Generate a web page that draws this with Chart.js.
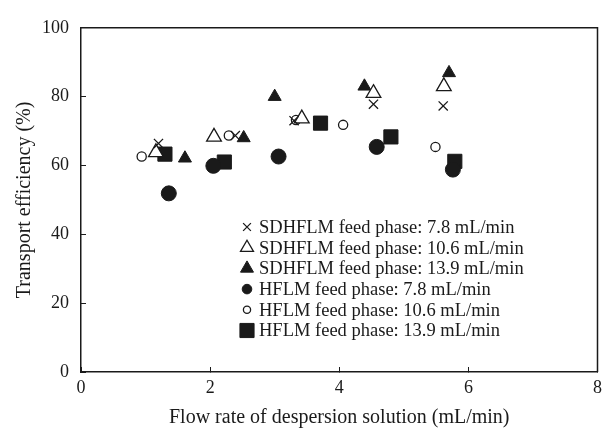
<!DOCTYPE html>
<html>
<head>
<meta charset="utf-8">
<script src="https://cdn.jsdelivr.net/npm/chart.js"></script>
<style>
  body { margin: 0; background: #fff; }
</style>
</head>
<body>
<canvas id="myChart" width="612" height="437"></canvas>
<script>
// series names
const seriesLabels = [
  "SDHFLM feed phase: 7.8 mL/min",
  "SDHFLM feed phase: 10.6 mL/min",
  "SDHFLM feed phase: 13.9 mL/min",
  "HFLM feed phase: 7.8 mL/min",
  "HFLM feed phase: 10.6 mL/min",
  "HFLM feed phase: 13.9 mL/min"
];

// flow rate of dispersion solution (mL/min) / transport efficiency (%)
const sdhFlow78 = [1.20, 2.39, 3.30, 4.53, 5.61];
const sdhEff78 = [66.4, 68.7, 73.0, 77.8, 77.3];
const sdhFlow106 = [1.16, 2.06, 3.42, 4.53, 5.62];
const sdhEff106 = [63.8, 68.3, 73.6, 81.0, 83.0];
const sdhFlow139 = [1.61, 2.52, 3.00, 4.39, 5.70];
const sdhEff139 = [62.1, 68.0, 80.0, 83.0, 86.9];
const hfFlow78 = [1.36, 2.05, 3.06, 4.58, 5.76];
const hfEff78 = [51.9, 59.9, 62.6, 65.4, 58.8];
const hfFlow106 = [0.94, 2.29, 3.33, 4.06, 5.49];
const hfEff106 = [62.6, 68.7, 73.2, 71.8, 65.4];
const hfFlow139 = [1.30, 2.22, 3.71, 4.80, 5.79];
const hfEff139 = [63.3, 61.0, 72.3, 68.3, 61.2];

const xTicks = [0, 2, 4, 6, 8];
const yTicks = [0, 20, 40, 60, 80, 100];

const ink = "#1a1a1a";
const serif = '"Liberation Serif", "Times New Roman", serif';

const toPoints = (xs, ys) => xs.map((x, i) => ({ x: x, y: ys[i] }));

// marker look for each series, plus the size used in the key
const markers = [
  { style: "crossRot", fill: ink, radius: 6.5, keyRadius: 5.5, line: 1.3 },
  { style: "triangle", fill: "#fff", radius: 8.5, keyRadius: 7.5, line: 1.3 },
  { style: "triangle", fill: ink, radius: 7.5, keyRadius: 7.5, line: 1 },
  { style: "circle", fill: ink, radius: 7.5, keyRadius: 4.8, line: 1 },
  { style: "circle", fill: "#fff", radius: 4.6, keyRadius: 3.6, line: 1.3 },
  { style: "rect", fill: ink, radius: 10, keyRadius: 10, line: 1 }
];

const seriesData = [
  toPoints(sdhFlow78, sdhEff78),
  toPoints(sdhFlow106, sdhEff106),
  toPoints(sdhFlow139, sdhEff139),
  toPoints(hfFlow78, hfEff78),
  toPoints(hfFlow106, hfEff106),
  toPoints(hfFlow139, hfEff139)
];

const datasets = seriesData.map((pts, i) => ({
  label: seriesLabels[i],
  data: pts,
  pointStyle: markers[i].style,
  pointRadius: markers[i].radius,
  pointHoverRadius: markers[i].radius,
  backgroundColor: markers[i].fill,
  borderColor: ink,
  borderWidth: markers[i].line,
  showLine: false
}));

// box round the plot area (top and right sides)
const frame = {
  id: "frame",
  afterDraw(chart) {
    const { ctx, chartArea: a } = chart;
    ctx.save();
    ctx.strokeStyle = ink;
    ctx.lineWidth = 1.5;
    ctx.beginPath();
    ctx.moveTo(a.left, a.top);
    ctx.lineTo(a.right, a.top);
    ctx.lineTo(a.right, a.bottom);
    ctx.stroke();
    ctx.restore();
  }
};

// key drawn inside the plot
const key = {
  id: "key",
  afterDraw(chart) {
    const ctx = chart.ctx;
    ctx.save();
    ctx.font = "18.5px " + serif;
    ctx.textBaseline = "middle";
    chart.data.datasets.forEach((ds, i) => {
      const y = 227 + i * 20.7;
      ctx.fillStyle = ds.backgroundColor;
      ctx.strokeStyle = ink;
      ctx.lineWidth = ds.borderWidth;
      Chart.helpers.drawPoint(ctx, {
        pointStyle: ds.pointStyle,
        radius: markers[i].keyRadius,
        borderWidth: ds.borderWidth,
        rotation: 0
      }, 247, y);
      ctx.fillStyle = ink;
      ctx.fillText(ds.label, 259, y + 1);
    });
    ctx.restore();
  }
};

const ctx = document.getElementById("myChart").getContext("2d");
const chart = new Chart(ctx, {
  type: "scatter",
  data: { datasets: datasets },
  plugins: [frame, key],
  options: {
    responsive: false,
    animation: false,
    devicePixelRatio: 1,
    layout: {
      autoPadding: false,
      padding: { left: 0, right: 4, top: 20, bottom: 0 }
    },
    plugins: {
      legend: { display: false },
      tooltip: { enabled: false }
    },
    scales: {
      x: {
        type: "linear",
        min: 0,
        max: 8,
        afterFit: s => { s.height = 65; },
        afterBuildTicks: s => { s.ticks = xTicks.map(v => ({ value: v })); },
        grid: { drawOnChartArea: false, drawTicks: true, tickLength: -5, color: ink, lineWidth: 1 },
        border: { display: true, color: ink, width: 1.5 },
        ticks: { color: ink, padding: 10, font: { family: serif, size: 18 } },
        title: {
          display: true,
          text: "Flow rate of despersion solution (mL/min)",
          color: ink,
          font: { family: serif, size: 20 },
          padding: { top: 0, bottom: 7 }
        }
      },
      y: {
        type: "linear",
        min: 0,
        max: 100,
        afterFit: s => { s.width = 81; },
        afterBuildTicks: s => { s.ticks = yTicks.map(v => ({ value: v })); },
        grid: { drawOnChartArea: false, drawTicks: true, tickLength: -5, color: ink, lineWidth: 1 },
        border: { display: true, color: ink, width: 1.5 },
        ticks: { color: ink, padding: 17, font: { family: serif, size: 18 } },
        title: {
          display: true,
          text: "Transport efficiency (%)",
          color: ink,
          font: { family: serif, size: 20 },
          padding: { top: 13, bottom: 0 }
        }
      }
    }
  }
});
</script>
</body>
</html>
